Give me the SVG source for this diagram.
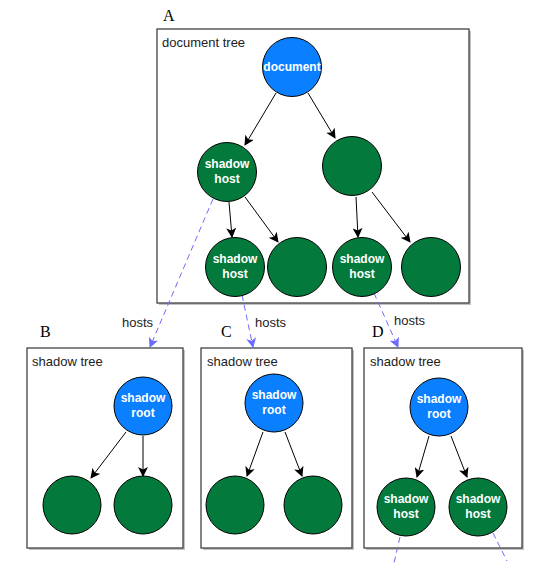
<svg xmlns="http://www.w3.org/2000/svg" width="560" height="563" viewBox="0 0 560 563">
<style>
.box{fill:#fff;stroke:#333;stroke-width:1.2}
.shd{fill:#999;opacity:0.6}
.blue{fill:#0a7fff;stroke:#000;stroke-width:1}
.green{fill:#037a3c;stroke:#000;stroke-width:1}
.nt{font-family:"Liberation Sans",Arial,sans-serif;font-weight:bold;font-size:12px;fill:#fff;text-anchor:middle}
.bt{font-family:"Liberation Sans",Arial,sans-serif;font-size:13px;fill:#222}
.lt{font-family:"Liberation Serif","Times New Roman",serif;font-size:16px;fill:#000}
.edge{stroke:#000;stroke-width:1;fill:none;marker-end:url(#ah)}
.host{stroke:#6b6bff;stroke-width:1;stroke-dasharray:6,4;fill:none}
.hostA{stroke:#6b6bff;stroke-width:1;stroke-dasharray:6,4;fill:none;marker-end:url(#bh)}
</style>
<defs>
<marker id="ah" markerWidth="10" markerHeight="10" refX="9" refY="5" orient="auto" markerUnits="userSpaceOnUse">
<path d="M0,0 L10,5 L0,10 L2.5,5 Z" fill="#000"/>
</marker>
<marker id="bh" markerWidth="10" markerHeight="10" refX="9" refY="5" orient="auto" markerUnits="userSpaceOnUse">
<path d="M0,0 L10,5 L0,10 L2.5,5 Z" fill="#6b6bff"/>
</marker>
</defs>
<rect width="560" height="563" fill="#fff"/>

<g id="boxA">
<rect class="shd" x="159" y="31" width="312" height="274"/>
<rect class="box" x="157" y="29" width="312" height="274"/>
<text class="lt" x="163" y="21">A</text>
<text class="bt" x="162" y="47">document tree</text>
</g>
<g id="boxB">
<rect class="shd" x="29" y="350" width="156" height="200"/>
<rect class="box" x="27" y="348" width="156" height="200"/>
<text class="lt" x="40" y="337">B</text>
<text class="bt" x="32" y="366">shadow tree</text>
</g>
<g id="boxC">
<rect class="shd" x="203" y="350" width="151" height="200"/>
<rect class="box" x="201" y="348" width="151" height="200"/>
<text class="lt" x="221" y="337">C</text>
<text class="bt" x="207" y="366">shadow tree</text>
</g>
<g id="boxD">
<rect class="shd" x="366" y="350" width="158" height="200"/>
<rect class="box" x="364" y="348" width="158" height="200"/>
<text class="lt" x="372" y="337">D</text>
<text class="bt" x="370" y="366">shadow tree</text>
</g>

<g id="connectors">
<line class="edge" x1="276" y1="93" x2="245" y2="145"/>
<line class="edge" x1="308" y1="93" x2="335" y2="138"/>
<line class="edge" x1="229" y1="202" x2="232" y2="237"/>
<line class="edge" x1="245" y1="197" x2="278" y2="242"/>
<line class="edge" x1="356" y1="197" x2="358" y2="237"/>
<line class="edge" x1="372" y1="192" x2="410" y2="242"/>
<line class="edge" x1="126" y1="432" x2="91" y2="478"/>
<line class="edge" x1="143" y1="436" x2="143" y2="476"/>
<line class="edge" x1="263" y1="432" x2="247" y2="476"/>
<line class="edge" x1="285" y1="432" x2="302" y2="476"/>
<line class="edge" x1="429" y1="436" x2="417" y2="477"/>
<line class="edge" x1="451" y1="436" x2="467" y2="477"/>
<line class="hostA" x1="213" y1="199" x2="150" y2="347"/>
<line class="hostA" x1="242" y1="295" x2="253" y2="347"/>
<line class="hostA" x1="374" y1="293" x2="398" y2="347"/>
<line class="host" x1="400" y1="537" x2="394" y2="563"/>
<line class="host" x1="493" y1="533" x2="507" y2="561"/>
<text class="bt" x="122" y="327">hosts</text>
<text class="bt" x="255" y="327">hosts</text>
<text class="bt" x="394" y="325">hosts</text>
</g>

<g id="document"><circle class="blue" cx="292" cy="67" r="29.5"/><text class="nt" x="292" y="71">document</text></g>
<g id="hostA1"><circle class="green" cx="227" cy="172" r="29.5"/><text class="nt" x="227" y="168">shadow</text><text class="nt" x="227" y="183">host</text></g>
<g id="nodeA2"><circle class="green" cx="352" cy="166" r="29.5"/></g>
<g id="hostA3"><circle class="green" cx="235" cy="267" r="29.5"/><text class="nt" x="235" y="263">shadow</text><text class="nt" x="235" y="278">host</text></g>
<g id="nodeA4"><circle class="green" cx="297" cy="267" r="29.5"/></g>
<g id="hostA5"><circle class="green" cx="362" cy="267" r="29.5"/><text class="nt" x="362" y="263">shadow</text><text class="nt" x="362" y="278">host</text></g>
<g id="nodeA6"><circle class="green" cx="431" cy="267" r="29.5"/></g>

<g id="rootB"><circle class="blue" cx="143" cy="406" r="29"/><text class="nt" x="143" y="402">shadow</text><text class="nt" x="143" y="417">root</text></g>
<g id="nodeB1"><circle class="green" cx="72" cy="505" r="29"/></g>
<g id="nodeB2"><circle class="green" cx="143" cy="505" r="29"/></g>

<g id="rootC"><circle class="blue" cx="274" cy="403" r="29"/><text class="nt" x="274" y="399">shadow</text><text class="nt" x="274" y="414">root</text></g>
<g id="nodeC1"><circle class="green" cx="235" cy="505" r="29"/></g>
<g id="nodeC2"><circle class="green" cx="313" cy="505" r="29"/></g>

<g id="rootD"><circle class="blue" cx="439" cy="407" r="29"/><text class="nt" x="439" y="403">shadow</text><text class="nt" x="439" y="418">root</text></g>
<g id="hostD1"><circle class="green" cx="406" cy="507" r="29"/><text class="nt" x="406" y="503">shadow</text><text class="nt" x="406" y="518">host</text></g>
<g id="hostD2"><circle class="green" cx="478" cy="507" r="29"/><text class="nt" x="478" y="503">shadow</text><text class="nt" x="478" y="518">host</text></g>
</svg>
